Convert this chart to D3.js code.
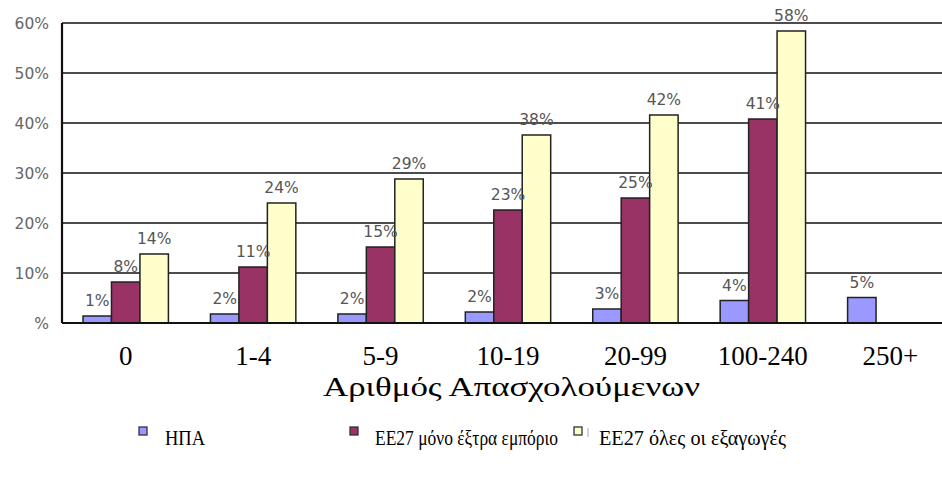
<!DOCTYPE html>
<html>
<head>
<meta charset="utf-8">
<script src="https://cdn.jsdelivr.net/npm/d3@7"></script>
<style>
  html, body { margin: 0; padding: 0; background: #fff; }
  svg { display: block; }
</style>
</head>
<body>
<svg id="chart" width="942" height="482"></svg>
<script>
const categories = ["0", "1-4", "5-9", "10-19", "20-99", "100-240", "250+"];
const seriesNames = ["ΗΠΑ", "ΕΕ27 μόνο έξτρα εμπόριο", "ΕΕ27 όλες οι εξαγωγές"];
const usa = [1.4, 1.8, 1.8, 2.2, 2.8, 4.5, 5.1];
const euExtra = [8.2, 11.2, 15.2, 22.6, 25.0, 40.8, null];
const euAll = [13.8, 24.0, 28.8, 37.6, 41.6, 58.4, null];
const usaLabels = ["1%", "2%", "2%", "2%", "3%", "4%", "5%"];
const euExtraLabels = ["8%", "11%", "15%", "23%", "25%", "41%", null];
const euAllLabels = ["14%", "24%", "29%", "38%", "42%", "58%", null];
const yTicks = [0, 10, 20, 30, 40, 50, 60];
const yTickLabels = ["%", "10%", "20%", "30%", "40%", "50%", "60%"];
const colors = ["#9999FF", "#993366", "#FFFFCC"];
const xTitle = "Αριθμός Απασχολούμενων";

const seriesValues = [usa, euExtra, euAll];
const seriesLabels = [usaLabels, euExtraLabels, euAllLabels];

const svg = d3.select("#chart");
const plotLeft = 62, plotRight = 954, plotTop = 23, plotBottom = 323;
const serif = "'Liberation Serif', 'Times New Roman', serif";
const sans = "'DejaVu Sans', Verdana, sans-serif";

const x0 = d3.scaleBand().domain(categories).range([plotLeft, plotRight]).padding(0);
const bw = x0.bandwidth();
const x1 = d3.scaleBand().domain(seriesNames).range([bw * 0.165, bw * 0.835]).padding(0);
const y = d3.scaleLinear().domain([0, 60]).range([plotBottom, plotTop]);

// gridlines
svg.append("g").selectAll("line").data(yTicks.filter(d => d > 0)).join("line")
  .attr("x1", plotLeft).attr("x2", 942)
  .attr("y1", d => y(d)).attr("y2", d => y(d))
  .attr("stroke", "#111").attr("stroke-width", 1.6);

// y tick labels
svg.append("g").selectAll("text").data(yTicks).join("text")
  .attr("x", 49).attr("y", d => y(d) + 6)
  .attr("text-anchor", "end")
  .attr("font-family", sans)
  .attr("font-size", 15.5)
  .attr("fill", "#666")
  .text((d, i) => yTickLabels[i]);

// bars
const groups = svg.append("g").selectAll("g").data(categories).join("g")
  .attr("transform", d => `translate(${x0(d)},0)`);

seriesNames.forEach((s, si) => {
  groups.filter((d, i) => seriesValues[si][i] != null)
    .append("rect")
    .attr("x", x1(s))
    .attr("width", x1.bandwidth())
    .attr("y", d => y(seriesValues[si][categories.indexOf(d)]))
    .attr("height", d => y(0) - y(seriesValues[si][categories.indexOf(d)]))
    .attr("fill", colors[si])
    .attr("stroke", "#222")
    .attr("stroke-width", 1.5);
});

// axes lines
svg.append("line").attr("x1", plotLeft).attr("x2", 942).attr("y1", y(0)).attr("y2", y(0))
  .attr("stroke", "#111").attr("stroke-width", 2.2);
svg.append("line").attr("x1", plotLeft).attr("x2", plotLeft).attr("y1", y(60)).attr("y2", y(0))
  .attr("stroke", "#111").attr("stroke-width", 2.2);

// data labels
seriesNames.forEach((s, si) => {
  groups.filter((d, i) => seriesValues[si][i] != null)
    .append("text")
    .attr("x", x1(s) + x1.bandwidth() / 2)
    .attr("y", d => y(seriesValues[si][categories.indexOf(d)]) - 10)
    .attr("text-anchor", "middle")
    .attr("font-family", sans)
    .attr("font-size", 15.5)
    .attr("fill", "#555")
    .text(d => seriesLabels[si][categories.indexOf(d)]);
});

// category labels
svg.append("g").selectAll("text").data(categories).join("text")
  .attr("x", d => x0(d) + bw / 2)
  .attr("y", 365)
  .attr("text-anchor", "middle")
  .attr("font-family", serif)
  .attr("font-size", 27)
  .attr("fill", "#000")
  .text(d => d);

// axis title
svg.append("text")
  .attr("x", 323).attr("y", 396)
  .attr("font-family", serif)
  .attr("font-size", 27)
  .attr("textLength", 377)
  .attr("lengthAdjust", "spacingAndGlyphs")
  .attr("fill", "#000")
  .text(xTitle);

// legend
const legendX = [139, 350, 574];
const legendTextLen = [40, 183, 187];
const leg = svg.append("g").selectAll("g").data(seriesNames).join("g")
  .attr("transform", (d, i) => `translate(${legendX[i]},427)`);
leg.append("rect").attr("x", 0).attr("y", 0).attr("width", 8).attr("height", 8)
  .attr("fill", (d, i) => colors[i]).attr("stroke", "#333").attr("stroke-width", 1.3);
leg.append("text").attr("x", (d, i) => i === 0 ? 26 : 25).attr("y", 18)
  .attr("font-family", serif)
  .attr("font-size", 21)
  .attr("textLength", (d, i) => legendTextLen[i])
  .attr("lengthAdjust", "spacingAndGlyphs")
  .attr("fill", "#000")
  .text(d => d);
leg.filter((d, i) => i === 2).append("line")
  .attr("x1", 14).attr("x2", 14).attr("y1", 1).attr("y2", 10)
  .attr("stroke", "#aaa").attr("stroke-width", 1);
</script>
</body>
</html>
